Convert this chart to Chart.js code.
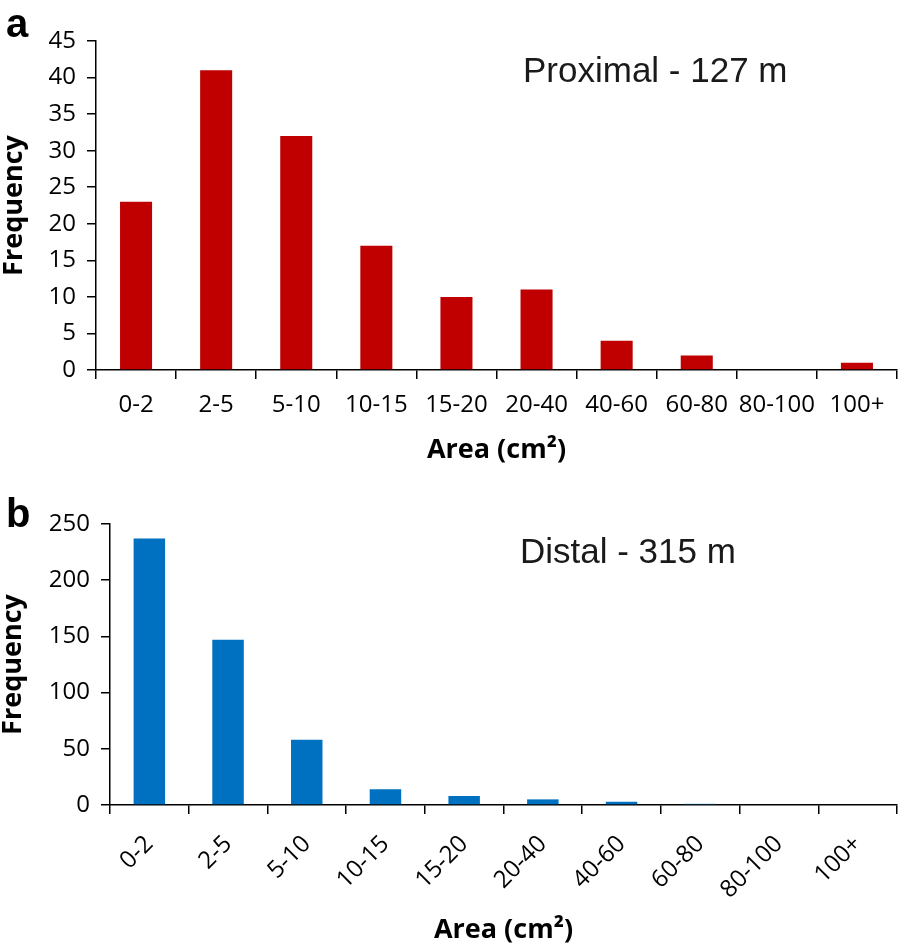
<!DOCTYPE html>
<html>
<head>
<meta charset="utf-8">
<script src="https://cdn.jsdelivr.net/npm/chart.js@4/dist/chart.umd.min.js"></script>
<style>
  body { margin: 0; background: #fff; }
  .panel { position: absolute; left: 0; width: 898px; }
</style>
</head>
<body>
<div class="panel" style="top:0;height:480px"><canvas id="proximal" width="898" height="480"></canvas></div>
<div class="panel" style="top:480px;height:465px"><canvas id="distal" width="898" height="465"></canvas></div>
<script>
const areaBins = ['0-2', '2-5', '5-10', '10-15', '15-20', '20-40', '40-60', '60-80', '80-100', '100+'];
const proximalFreq = [23, 41, 32, 17, 10, 11, 4, 2, 0, 1];
const distalFreq = [237, 147, 58, 14, 8, 5, 3, 1, 0, 0];
const proximalYMax = 45, proximalYStep = 5;
const distalYMax = 250, distalYStep = 50;

Chart.defaults.font.family = '"Open Sans", sans-serif';
Chart.defaults.color = '#000';

const panelText = {
    id: 'panelText',
    afterDraw(chart, args, opts) {
        const { ctx, chartArea } = chart;
        ctx.save();
        ctx.fillStyle = '#000';
        ctx.textBaseline = 'alphabetic';
        ctx.textAlign = 'left';
        ctx.font = 'bold 40px "Liberation Sans"';
        ctx.fillText(opts.letter, 6, opts.letterY);
        ctx.fillStyle = '#1a1a1a';
        ctx.font = '35px "Liberation Sans"';
        ctx.fillText(opts.caption, chartArea.left + opts.captionX, chartArea.top + opts.captionY);
        ctx.restore();
    }
};

function createHistogram(canvas, values, color, cfg) {
    return new Chart(canvas, {
        type: 'bar',
        data: {
            labels: areaBins,
            datasets: [{
                data: values,
                backgroundColor: color,
                borderWidth: 0,
                barPercentage: 0.4,
                categoryPercentage: 1,
            }],
        },
        options: {
            responsive: false,
            animation: false,
            layout: { padding: { top: cfg.top, left: 0, right: 1, bottom: 0 } },
            scales: {
                x: {
                    grid: { drawOnChartArea: false, drawTicks: true, tickLength: 9, color: '#000', lineWidth: 1.5 },
                    border: { color: '#000', width: 1.5 },
                    ticks: {
                        autoSkip: false,
                        minRotation: cfg.rotation,
                        maxRotation: cfg.rotation,
                        padding: cfg.xPad,
                        font: { size: 24 },
                    },
                    title: {
                        display: true,
                        text: 'Area (cm²)',
                        font: { size: 27, weight: 'bold', lineHeight: 1 },
                        padding: { top: 0, bottom: cfg.xTitlePad },
                    },
                    afterFit: (scale) => { scale.height = cfg.xHeight; },
                },
                y: {
                    beginAtZero: true,
                    max: cfg.yMax,
                    grid: { drawOnChartArea: false, drawTicks: true, tickLength: 9, color: '#000', lineWidth: 1.5 },
                    border: { color: '#000', width: 1.5 },
                    ticks: { stepSize: cfg.yStep, padding: 11, font: { size: 24 } },
                    title: {
                        display: true,
                        text: 'Frequency',
                        font: { size: 27, weight: 'bold', lineHeight: 1 },
                        padding: { top: cfg.yTitlePad, bottom: 0 },
                    },
                    afterFit: (scale) => { scale.width = cfg.yWidth; },
                },
            },
            plugins: {
                legend: { display: false },
                tooltip: { enabled: false },
                panelText: { letter: cfg.letter, letterY: cfg.letterY, caption: cfg.caption, captionX: cfg.captionX, captionY: cfg.captionY },
            },
        },
        plugins: [panelText],
    });
}

createHistogram(document.getElementById('proximal'), proximalFreq, '#c00000', {
    top: 41, xHeight: 110, yWidth: 96, yMax: proximalYMax, yStep: proximalYStep,
    rotation: 0, xPad: 12, xTitlePad: 16, yTitlePad: 1,
    letter: 'a', letterY: 37, caption: 'Proximal - 127 m', captionX: 427, captionY: 41,
});

createHistogram(document.getElementById('distal'), distalFreq, '#0070c0', {
    top: 44, xHeight: 140, yWidth: 110, yMax: distalYMax, yStep: distalYStep,
    rotation: 45, xPad: 16, xTitlePad: 1, yTitlePad: 0,
    letter: 'b', letterY: 47, caption: 'Distal - 315 m', captionX: 410, captionY: 39,
});
</script>
</body>
</html>
